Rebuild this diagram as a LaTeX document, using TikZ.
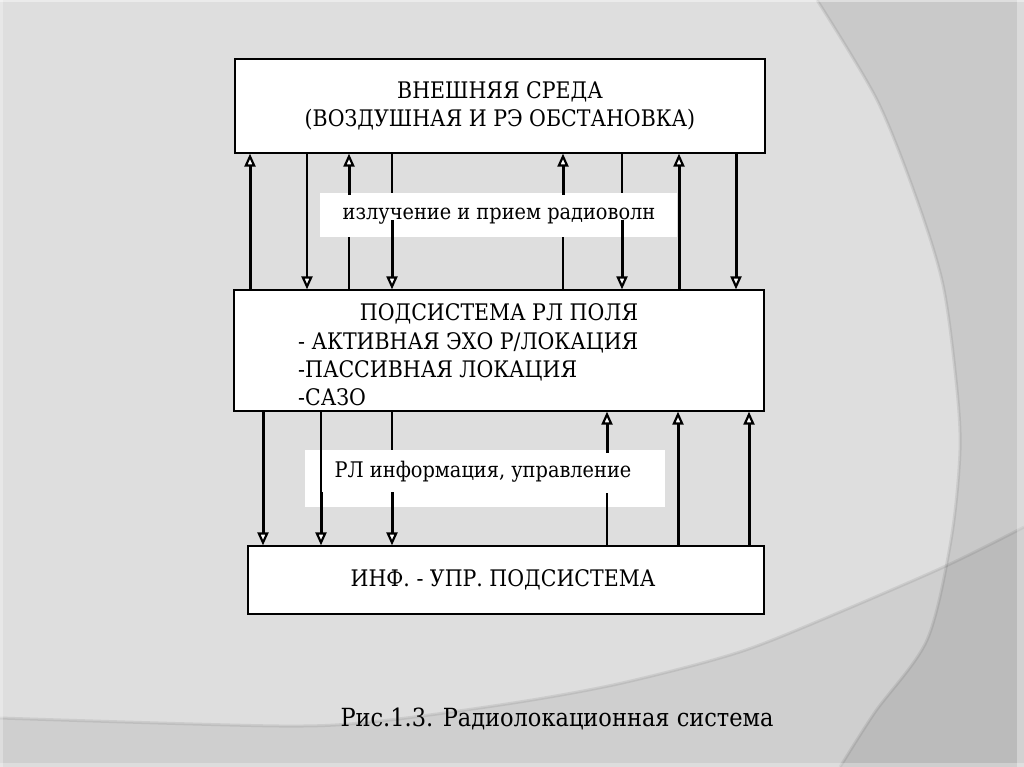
\documentclass[tikz,border=0pt]{standalone}
\usepackage{fontspec}
\setmainfont{DejaVu Serif Condensed}
\usetikzlibrary{arrows.meta}
\definecolor{bgA}{HTML}{DEDEDE}
\begin{document}
\begin{tikzpicture}[x=1pt,y=-1pt,
  box/.style={draw=black, line width=1.3pt, fill=white, inner sep=0pt},
  lab/.style={fill=white, inner sep=0pt},
  txt/.style={font=\rmfamily\fontsize{22.8}{28}\selectfont, inner sep=0pt},
  lowtxt/.style={font=\rmfamily\fontsize{21.5}{26}\selectfont, inner sep=0pt},
  captxt/.style={font=\rmfamily\fontsize{25}{32}\selectfont, inner sep=0pt},
  tip/.style={-{Triangle[open,fill=white,length=13pt,width=11pt,line width=2.2pt]}},
  thickarr/.style={line width=3pt, tip},
  medarr/.style={line width=2.3pt, tip},
  thinln/.style={line width=1.3pt},
  curveshade/.style={draw=black, opacity=0.08, line width=3pt},
]
\useasboundingbox (0,0) rectangle (1024,767);
% background
\fill[bgA] (0,0) rectangle (1024,767);
\fill[black, opacity=0.09] plot[smooth] coordinates {(817,0) (877,100) (917,200) (943,285) (956,380) (960,450) (951,540) (927,640) (875,712) (840,767)} -- (1024,767) -- (1024,0) -- cycle;
\fill[black, opacity=0.065] plot[smooth] coordinates {(0,718) (280,726) (380,721) (513,703) (613,685) (713,660) (780,637) (937,570) (1024,527)} -- (1024,767) -- (0,767) -- cycle;
\draw[curveshade] plot[smooth] coordinates {(817,0) (877,100) (917,200) (943,285) (956,380) (960,450) (951,540) (927,640) (875,712) (840,767)};
\draw[curveshade] plot[smooth] coordinates {(0,718) (280,726) (380,721) (513,703) (613,685) (713,660) (780,637) (937,570) (1024,527)};
\fill[white, opacity=0.35] (1017,0) rectangle (1024,767);
\fill[white, opacity=0.4] (0,0) rectangle (1024,2);
\fill[white, opacity=0.3] (0,0) rectangle (3,767);
\fill[white, opacity=0.3] (0,763) rectangle (1024,767);

% boxes
\node[box, minimum width=530pt, minimum height=94pt, align=center, txt] (top) at (500,106) {ВНЕШНЯЯ СРЕДА\\(ВОЗДУШНАЯ И РЭ ОБСТАНОВКА)};
\node[box, minimum width=530pt, minimum height=121pt] (mid) at (499,350.5) {};
\node[txt, anchor=base] (m1) at (499,320) {ПОДСИСТЕМА РЛ ПОЛЯ};
\node[txt, anchor=base west] (m2) at (298,349) {- АКТИВНАЯ ЭХО Р/ЛОКАЦИЯ};
\node[txt, anchor=base west] (m3) at (298,377) {-ПАССИВНАЯ ЛОКАЦИЯ};
\node[txt, anchor=base west] (m4) at (298,405) {-САЗО};
\node[box, minimum width=516pt, minimum height=68pt] (bot) at (506,580) {};
\node[txt, anchor=base] (bt) at (503,586) {ИНФ. - УПР. ПОДСИСТЕМА};

% labels
\node[lab, minimum width=357pt, minimum height=44pt] (lab1) at (498.5,215) {};
\node[lowtxt, anchor=base] (l1t) at (499,220) {излучение и прием радиоволн};
\node[lab, minimum width=360pt, minimum height=57pt] (lab2) at (485,478.5) {};
\node[lowtxt, anchor=base] (l2t) at (483,477) {РЛ информация, управление};

% x positions
\foreach \n/\x in {a1/250,a2/307,a3/349,a4/392,a5/563,a6/622,a7/679,a8/736,b1/263,b2/321,b3/392,b4/607,b5/678,b6/749}
  \coordinate (\n) at (\x,0);

% connectors: outer environment <-> RL field subsystem
\draw[thickarr] (mid.north -| a1) -- (top.south -| a1);
\draw[medarr] (top.south -| a2) -- (mid.north -| a2);
\draw[thinln] (mid.north -| a3) -- (lab1.south -| a3);
\draw[thickarr] ([yshift=-2pt]lab1.north -| a3) -- (top.south -| a3);
\draw[thinln] (top.south -| a4) -- (lab1.north -| a4);
\draw[thickarr] ([yshift=17pt]lab1.south -| a4) -- (mid.north -| a4);
\draw[thinln] (mid.north -| a5) -- (lab1.south -| a5);
\draw[thickarr] ([yshift=-2pt]lab1.north -| a5) -- (top.south -| a5);
\draw[thinln] (top.south -| a6) -- (lab1.north -| a6);
\draw[thickarr] ([yshift=17pt]lab1.south -| a6) -- (mid.north -| a6);
\draw[thickarr] (mid.north -| a7) -- (top.south -| a7);
\draw[thickarr] (top.south -| a8) -- (mid.north -| a8);

% connectors: RL field subsystem <-> info-control subsystem
\draw[thickarr] (mid.south -| b1) -- (bot.north -| b1);
\coordinate (b2m) at ([yshift=15pt]lab2.south -| b2);
\draw[thinln] (mid.south -| b2) -- (b2m);
\draw[thickarr] (b2m) -- (bot.north -| b2);
\draw[thinln] (mid.south -| b3) -- (lab2.north -| b3);
\draw[thickarr] ([yshift=15pt]lab2.south -| b3) -- (bot.north -| b3);
\draw[thinln] (bot.north -| b4) -- ([yshift=14pt]lab2.south -| b4);
\draw[thickarr] ([yshift=-3pt]lab2.north -| b4) -- (mid.south -| b4);
\draw[thickarr] (bot.north -| b5) -- (mid.south -| b5);
\draw[thickarr] (bot.north -| b6) -- (mid.south -| b6);

% caption
\node[captxt, anchor=base] (cap) at (557,726) {Рис.1.3. Радиолокационная система};
\end{tikzpicture}
\end{document}
